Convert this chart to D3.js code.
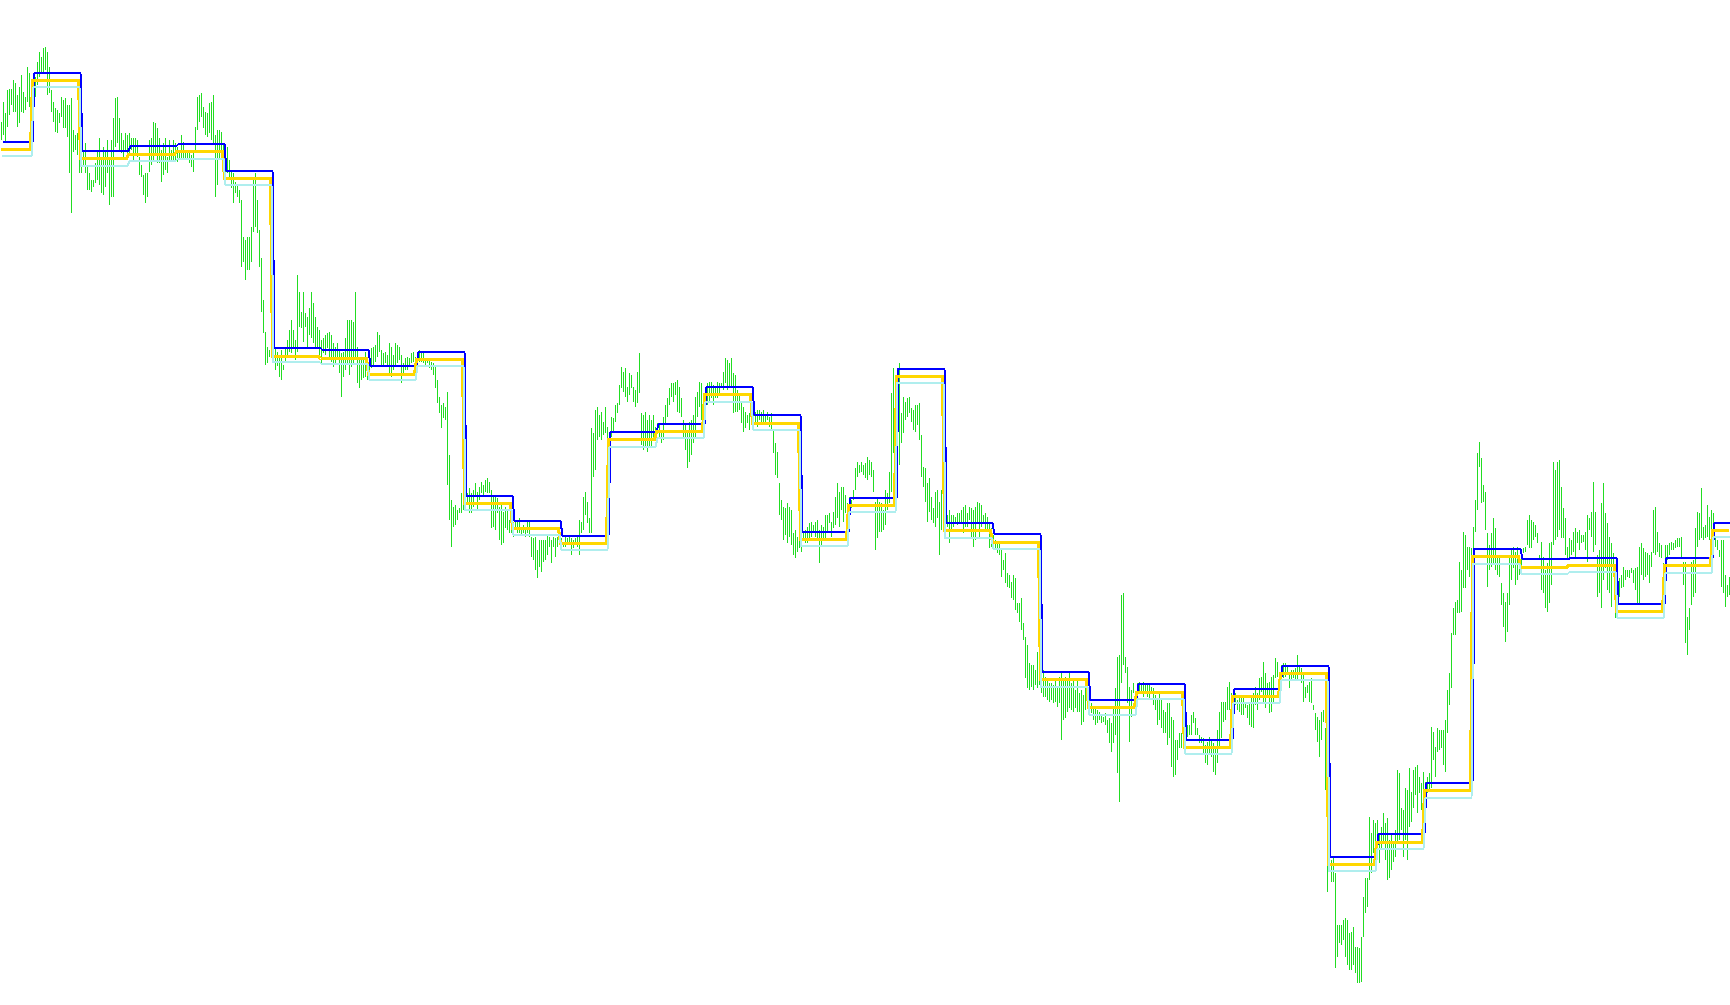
<!DOCTYPE html>
<html><head><meta charset="utf-8">
<script src="https://cdn.jsdelivr.net/npm/d3@7"></script>
<style>html,body{margin:0;padding:0;background:#fff;overflow:hidden}</style>
</head><body>
<svg id="chart" width="1730" height="1005"></svg>
<script>
// Bar highs (price units), one row per period
const highs = [
878,898,887,910,911,911,920,917,905,913,925,908,903,933,927,895,
925,923,938,948,943,952,953,948,933,910,898,892,890,887,903,900,902,895,895,902,870,865,867,860,
860,850,857,835,827,820,820,837,850,862,843,853,850,860,840,860,882,902,903,882,867,860,867,865,
867,862,862,862,860,843,835,825,827,827,860,862,878,877,872,862,850,857,862,843,860,850,860,857,
853,850,865,858,850,850,848,845,850,873,903,905,907,893,888,887,897,898,905,865,870,870,868,857,
850,853,840,828,827,818,815,810,800,763,760,763,763,773,823,827,800,770,742,700,668,653,650,655,
660,653,648,643,650,635,653,660,670,680,670,660,725,708,688,708,687,683,692,708,697,683,673,670,
660,662,665,667,668,665,657,653,657,650,647,648,662,680,680,680,678,708,653,640,642,640,648,640,
637,652,653,655,668,665,650,647,648,645,657,653,645,657,655,653,645,637,642,643,642,647,648,643,
648,650,647,648,642,640,642,638,637,633,620,603,595,597,593,608,545,500,493,495,490,492,507,508,
508,507,512,507,510,517,508,513,518,515,520,522,518,510,503,503,502,493,497,488,493,490,480,487,
473,480,478,482,473,475,472,478,480,463,462,463,450,460,460,460,460,465,463,460,463,462,463,463,
462,458,463,462,463,462,460,462,463,480,478,503,508,498,482,572,567,590,593,585,588,578,593,573,
568,583,582,595,597,615,633,628,632,613,627,625,613,610,628,647,587,585,588,580,585,580,585,573,
577,575,570,583,595,602,612,617,617,618,620,613,602,580,575,567,578,580,585,603,608,618,617,598,
613,617,618,618,615,612,618,617,617,628,642,640,637,642,627,625,610,605,597,593,588,585,587,583,
585,588,590,590,588,590,585,588,583,587,570,557,548,517,500,493,492,497,493,490,467,470,463,470,
468,468,470,473,477,478,475,478,480,470,475,473,485,485,487,478,488,503,517,508,513,513,505,497,
503,500,510,532,538,535,538,535,537,543,540,538,530,498,502,498,497,490,510,507,528,607,632,592,
618,637,587,603,598,602,603,592,590,595,595,597,565,533,532,517,522,503,492,508,510,498,510,500,
485,485,490,485,485,483,487,487,490,493,495,487,493,492,490,493,498,497,495,485,487,483,477,472,
465,460,458,457,450,440,447,427,425,418,425,422,397,397,402,377,363,355,337,335,335,330,348,340,
330,330,323,322,317,317,315,320,313,323,327,320,323,322,327,317,322,310,322,307,310,305,317,312,
300,297,293,292,290,288,285,283,287,280,282,277,293,312,343,345,405,407,343,333,313,310,317,307,
317,318,317,318,317,317,317,313,312,305,300,307,302,290,288,297,297,283,280,260,260,267,267,275,
280,275,275,285,288,282,272,265,263,262,255,258,263,260,257,253,270,288,298,298,298,313,318,307,
310,307,300,302,305,302,298,295,297,302,307,313,307,322,323,338,327,317,318,323,325,342,338,328,
335,337,337,335,328,330,330,332,345,333,332,327,313,315,318,322,295,287,283,280,288,290,272,205,
183,140,143,127,75,75,75,80,82,80,67,68,73,53,53,52,63,103,122,122,183,167,180,177,
180,167,173,187,177,182,160,167,158,170,230,227,192,190,212,210,232,208,230,233,235,223,217,228,
218,223,227,273,268,253,272,270,270,270,280,310,327,367,392,398,400,438,430,468,465,453,453,452,
473,500,547,558,542,515,508,467,455,467,482,472,442,443,417,407,398,407,443,450,453,448,453,445,
442,452,453,480,485,480,478,475,467,445,458,443,430,437,457,458,538,530,538,540,513,492,482,453,
462,460,468,472,468,470,465,465,468,485,482,488,518,488,445,450,497,517,487,477,463,457,447,433,
413,422,425,433,430,430,430,432,430,432,433,453,457,452,448,447,445,448,490,493,468,457,455,437,
455,455,457,458,457,460,462,462,463,438,438,383,392,438,440,472,488,487,512,473,475,495,483,490,
487,463,460,450,460,460,425,415,423
];
// Bar lows (price units)
const lows = [
860,865,857,873,885,895,888,888,873,877,888,887,890,898,893,868,
900,903,915,923,928,927,930,905,907,888,878,868,867,877,883,872,872,863,827,787,848,850,845,827,
827,833,827,810,810,808,813,817,820,815,807,805,813,827,795,803,803,853,857,850,847,840,850,842,
847,850,840,845,843,825,823,805,797,803,828,835,838,847,837,837,818,825,830,827,838,838,840,840,
838,840,842,840,842,842,837,833,828,847,870,878,883,872,865,863,867,860,857,803,815,842,840,843,
828,827,820,812,797,807,803,797,733,738,720,730,730,738,768,773,767,733,688,667,635,637,643,645,
638,630,634,623,620,630,637,643,648,647,653,640,648,673,672,658,673,652,665,662,657,653,652,645,
637,647,645,652,643,638,633,637,642,627,603,623,630,637,625,633,637,640,617,612,620,622,623,620,
620,632,635,638,643,648,633,635,637,633,627,623,630,635,637,640,617,625,630,630,633,637,638,630,
637,638,638,637,633,637,632,630,625,612,597,587,572,582,580,515,480,453,473,475,480,487,487,490,
497,498,487,487,493,503,490,500,507,503,508,507,507,472,473,470,487,460,455,457,472,470,467,467,
463,470,467,467,465,467,463,467,463,443,440,430,422,433,428,438,440,445,453,437,453,443,453,457,
453,453,453,457,457,445,452,457,453,445,467,470,485,477,467,467,523,530,560,563,560,565,567,560,
553,563,568,578,587,595,612,608,603,598,605,612,598,593,597,607,555,550,552,548,553,552,563,560,
567,563,557,560,577,583,595,603,598,605,588,587,583,563,550,532,538,545,557,563,583,593,580,578,
593,595,597,602,595,602,602,607,612,610,617,610,613,613,587,588,588,590,577,568,572,577,570,577,
572,578,573,580,577,577,577,580,573,570,547,525,522,485,480,460,465,457,463,455,445,442,448,452,
448,460,457,457,460,463,468,463,460,437,453,460,460,467,477,463,472,475,482,473,490,478,487,477,
490,492,500,510,523,527,528,525,522,520,525,523,508,450,462,468,468,470,475,490,497,508,547,527,
552,535,557,567,580,583,587,578,570,568,575,560,523,513,498,478,488,480,477,473,482,445,470,475,
470,473,457,470,473,477,475,477,477,467,473,473,480,463,453,460,477,463,473,477,468,470,452,453,
457,452,447,445,423,430,417,413,412,402,400,390,387,378,370,360,322,312,310,313,310,315,312,315,
307,303,303,300,298,300,297,298,293,297,260,280,282,288,292,290,288,292,288,288,275,278,290,298,
287,287,280,275,277,280,277,278,275,267,257,248,257,265,227,198,317,335,327,297,258,283,307,297,
300,307,307,303,307,303,300,307,295,290,275,280,272,267,267,255,262,233,223,225,240,252,252,252,
260,263,265,265,277,265,265,257,257,247,237,235,247,243,228,225,237,253,262,278,280,290,290,277,
283,295,290,288,285,285,292,282,275,273,272,295,290,300,308,297,292,302,287,288,298,322,323,317,
320,322,323,328,312,320,322,320,320,327,317,298,302,307,298,297,290,270,258,243,260,278,210,108,
140,118,118,32,43,57,55,60,43,35,30,30,35,27,17,17,18,63,87,93,120,127,147,140,
153,137,150,157,140,120,122,130,138,143,157,160,170,143,160,140,173,178,192,205,187,207,190,193,
200,207,210,212,240,223,248,250,252,235,228,267,295,312,365,365,387,387,388,412,412,430,423,423,
438,468,490,533,497,498,470,413,430,433,437,430,425,423,395,373,358,368,395,420,432,415,420,425,
433,447,448,455,452,452,460,463,457,440,410,407,392,388,397,415,455,460,463,470,462,462,445,442,
440,445,448,443,457,450,457,458,450,438,470,463,448,455,403,407,392,420,432,410,407,393,423,382,
400,403,412,413,420,423,422,427,417,410,397,395,425,420,423,425,417,433,447,445,448,443,442,402,
437,440,445,450,450,452,453,453,442,415,357,345,370,395,403,407,453,460,462,460,462,463,460,457,
463,453,450,443,413,407,393,403,405
];
// Period levels (one value per period)
const firstPeriodBars = 16;
const periodBars = 24;
const upperLevels  = [858,927,849,854,856,829,652,650,634,648,504,479,464,568,576,613,585,468,502,631,477,466,328,300,316,260,311,334,143,166,217,451,441,442,396,442,477];
const middleLevels = [851,920,842,846,849,822,644,642,626,641,497,472,457,561,569,606,577,461,495,624,470,458,321,293,308,253,304,327,136,158,210,444,433,435,389,435,470];
const lowerLevels  = [844,913,834,839,841,815,638,636,620,634,490,465,450,553,562,598,570,454,488,617,462,451,313,285,301,246,297,320,129,151,202,436,426,428,382,427,463];

const W = 1730, H = 1005;
const n = Math.min(highs.length, lows.length);
const svg = d3.select('#chart');
svg.append('rect').attr('width', W).attr('height', H).attr('fill', '#ffffff');

const x = d3.scaleLinear().domain([0, n - 1]).range([1, 1 + 2 * (n - 1)]);
const y = d3.scaleLinear().domain([0, 1000]).range([1000, 0]);
const periodOf = i => i < firstPeriodBars ? 0 : 1 + Math.floor((i - firstPeriodBars) / periodBars);

const idx = d3.range(n);
svg.append('g').attr('shape-rendering', 'crispEdges')
  .selectAll('rect').data(idx).join('rect')
  .attr('x', i => Math.round(x(i)))
  .attr('y', i => Math.round(y(highs[i])))
  .attr('width', 1)
  .attr('height', i => Math.max(1, Math.round(y(lows[i])) - Math.round(y(highs[i]))))
  .attr('fill', '#22dd22');

function levelLine(levels, color, width, off, dx) {
  const line = d3.line()
    .x(i => x(i) + 0.5 + dx)
    .y(i => y(levels[periodOf(i)]) + off);
  svg.append('path')
    .attr('d', line(idx))
    .attr('fill', 'none')
    .attr('stroke', color)
    .attr('stroke-width', width)
    .attr('shape-rendering', 'crispEdges');
}
levelLine(upperLevels, '#0000ff', 2, 0, 1);
levelLine(middleLevels, '#ffd700', 3, 0.5, -1);
levelLine(lowerLevels, '#afeeee', 2, 0, 0);
</script>
</body></html>
